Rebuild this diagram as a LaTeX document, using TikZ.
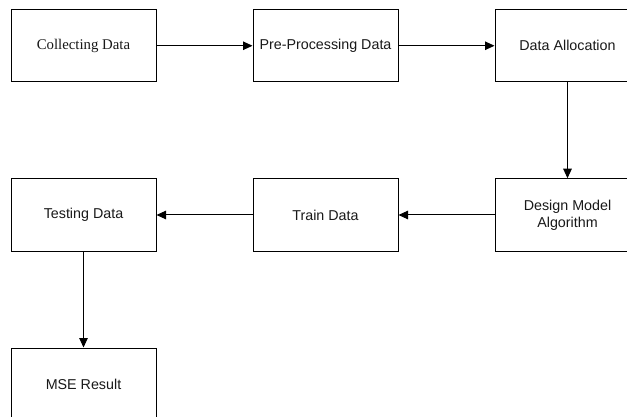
\documentclass[tikz,border=0pt]{standalone}
\usepackage{fontspec}
\setmainfont{Liberation Sans}
\newfontfamily\serifface{Liberation Serif}
\usetikzlibrary{arrows.meta}
\begin{document}
\begin{tikzpicture}[x=1pt,y=-1pt,
  box/.style={draw=black,line width=1pt,fill=white,minimum width=145pt,minimum height=72.5pt,inner sep=2pt,align=center,font=\fontsize{14.3}{17}\selectfont,text=black!90},
  conn/.style={draw=black,line width=1pt,-{Triangle[length=9.5pt,width=8.5pt]}}]
\useasboundingbox (0,0) rectangle (627,417);
\clip (0,0) rectangle (627,417);
\node[box,font=\serifface\fontsize{14.8}{17}\selectfont] (a) at (83.5,45.75) {Collecting Data};
\node[box] (b) at (325.5,45.75) {Pre-Processing Data};
\node[box] (c) at (567.5,45.75) {Data Allocation};
\node[box] (d) at (567.5,215) {Design Model\\Algorithm};
\node[box] (e) at (325.5,215) {Train Data};
\node[box] (f) at (83.5,215) {Testing Data};
\node[box] (g) at (83.5,384.25) {MSE Result};
\draw[conn] (a) -- (b);
\draw[conn] (b) -- (c);
\draw[conn] (c) -- (d);
\draw[conn] (d) -- (e);
\draw[conn] (e) -- (f);
\draw[conn] (f) -- (g);
\end{tikzpicture}
\end{document}
